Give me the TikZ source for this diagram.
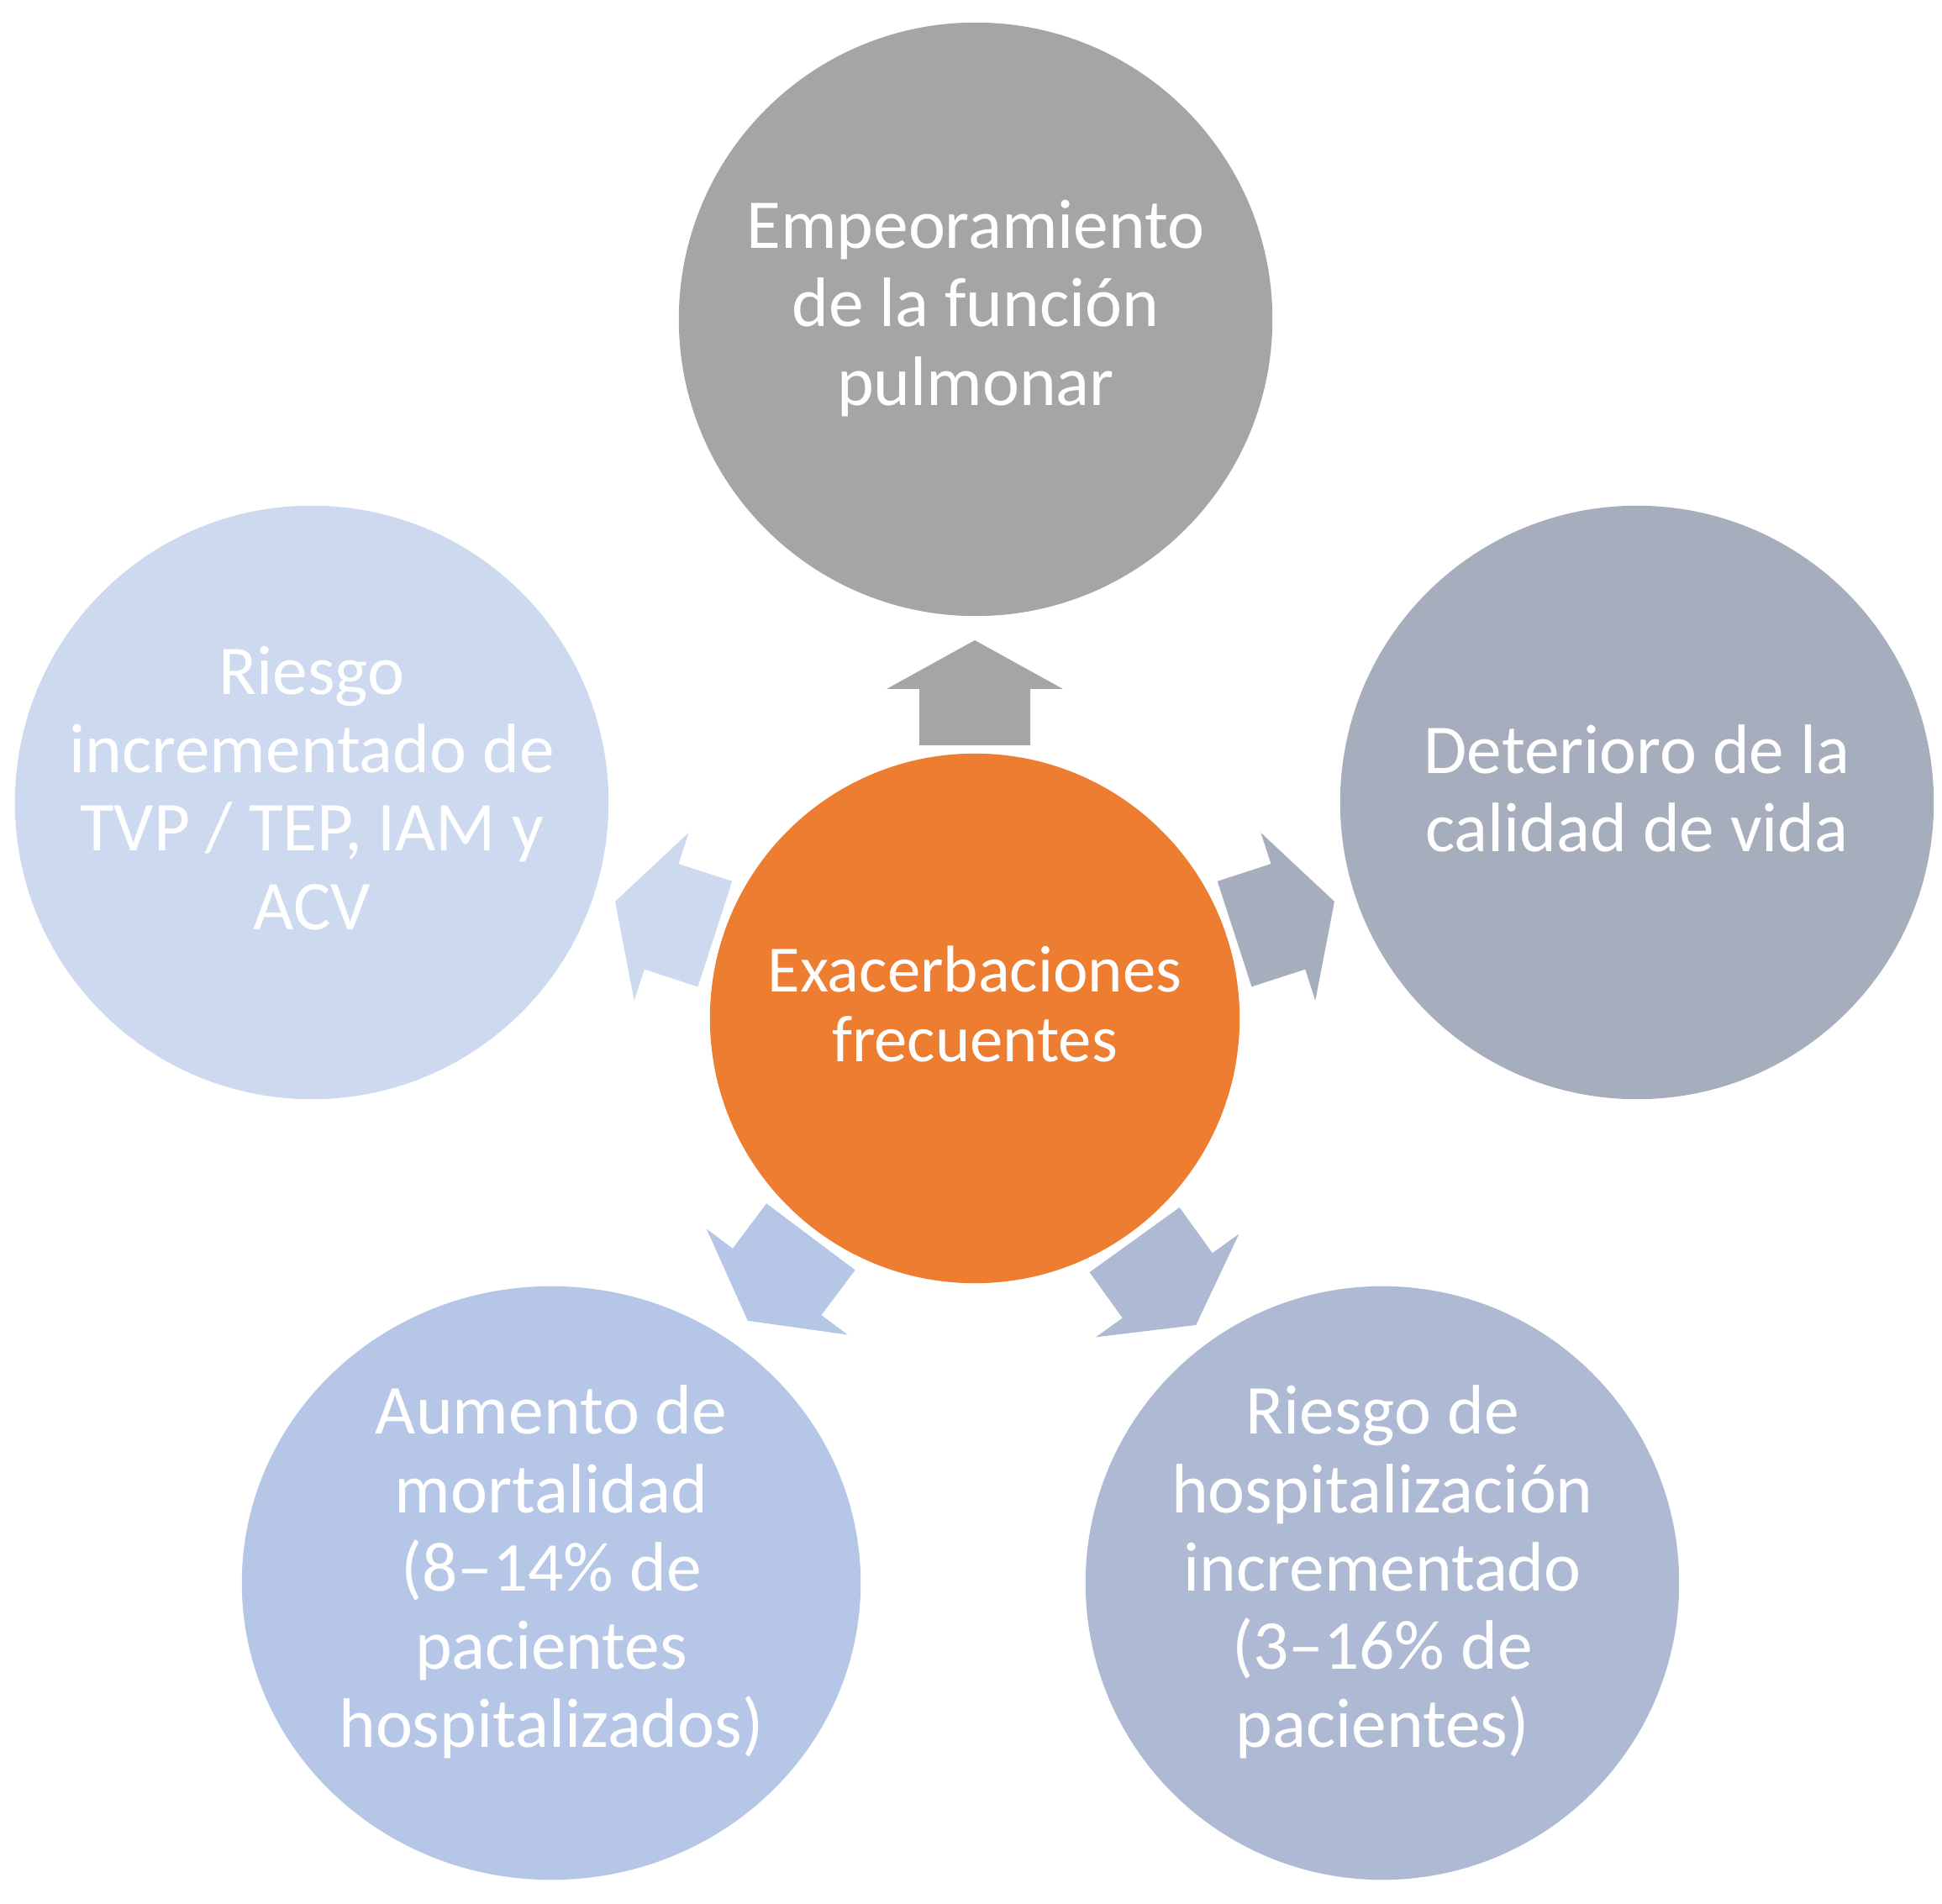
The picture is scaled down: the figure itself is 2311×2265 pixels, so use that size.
\documentclass[tikz,border=0pt]{standalone}
\usepackage{fontspec}
\setmainfont{Carlito}
\usetikzlibrary{shapes.geometric}
\definecolor{cTop}{HTML}{A5A5A5}
\definecolor{cRight}{HTML}{A6ADBD}
\definecolor{cBR}{HTML}{AEB9D3}
\definecolor{cBL}{HTML}{B6C6E6}
\definecolor{cLeft}{HTML}{CDD9EF}
\definecolor{cCtr}{HTML}{ED7D31}
\begin{document}
\begin{tikzpicture}[x=0.01cm,y=0.01cm,
  bubble/.style={circle, inner sep=0pt, minimum size=7.06cm},
  txt/.style={text=white, align=center, inner sep=0pt, font=\fontsize{23.7pt}{26.5pt}\selectfont},
  ctrtxt/.style={text=white, align=center, inner sep=0pt, font=\fontsize{22.4pt}{23.5pt}\selectfont}]
\useasboundingbox (0,0) rectangle (2311,2265);
% outer circles
\node[bubble, fill=cTop] (top) at (1161,1885) {};
\node[bubble, fill=cRight] (right) at (1948,1310) {};
\node[bubble, fill=cLeft] (left) at (371,1310) {};
\node[ellipse, inner sep=0pt, minimum width=7.36cm, minimum height=7.06cm, fill=cBL] (bl) at (656,381) {};
\node[bubble, fill=cBR] (br) at (1645,381) {};
% center
\node[circle, inner sep=0pt, minimum size=6.3cm, fill=cCtr] (ctr) at (1160,1053) {};
% arrows
\newcommand\radarrow[2]{%
  \fill[#1, shift={(ctr.center)}, rotate=#2]
    (325,-66) -- (392,-66) -- (392,-105) -- (450,0) -- (392,105) -- (392,66) -- (325,66) -- cycle;}
\radarrow{cTop}{90}
\radarrow{cRight}{18}
\radarrow{cBR}{-54.2}
\radarrow{cBL}{-126.9}
\radarrow{cLeft}{162}
% texts
\node[txt] (toptxt) at ([yshift=0.13cm]top.center) {Empeoramiento\\de la función\\pulmonar};
\node[txt] (righttxt) at ([yshift=0.17cm]right.center) {Deterioro de la\\calidad de vida};
\node[txt] (lefttxt) at ([yshift=0.17cm]left.center) {Riesgo\\incrementado de\\TVP / TEP, IAM y\\ACV};
\node[txt] (bltxt) at ([yshift=0.13cm]bl.center) {Aumento de\\mortalidad\\(8–14\% de\\pacientes\\hospitalizados)};
\node[txt] (brtxt) at ([yshift=0.13cm]br.center) {Riesgo de\\hospitalización\\incrementado\\(3–16\% de\\pacientes)};
\node[ctrtxt] (ctrtxt) at ([yshift=0.17cm]ctr.center) {Exacerbaciones\\frecuentes};
\end{tikzpicture}
\end{document}
